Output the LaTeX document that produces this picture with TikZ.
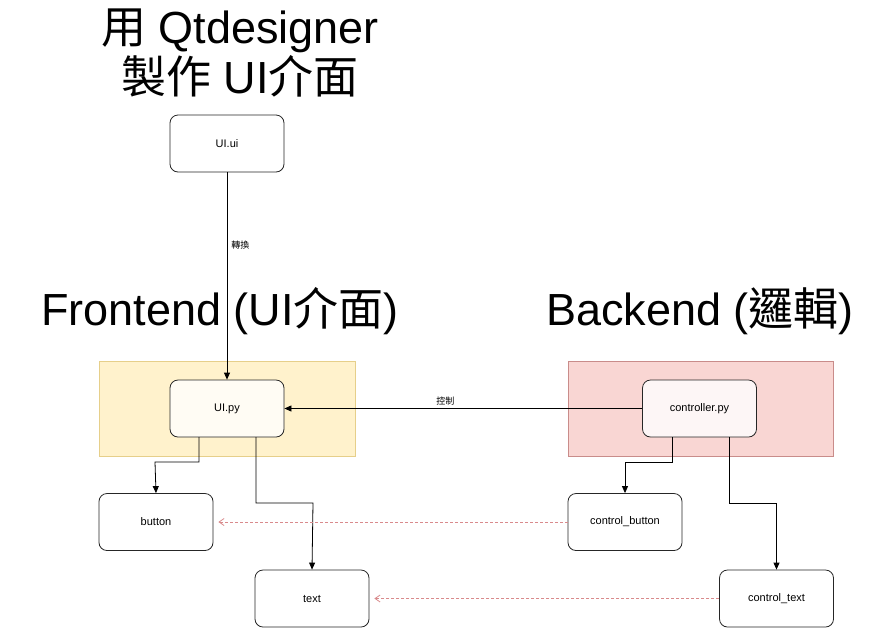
\documentclass[tikz,border=0pt]{standalone}
\usepackage{fontspec}
\setmainfont{Liberation Sans}
\newfontfamily\cjk{Noto Sans CJK TC}
\usetikzlibrary{arrows.meta}
\definecolor{fyel}{HTML}{FFF2CC}
\definecolor{byel}{HTML}{E6CF8A}
\definecolor{fred}{HTML}{F9D6D3}
\definecolor{bred}{HTML}{C98C8A}
\definecolor{dred}{HTML}{D98A8C}
\begin{document}
\begin{tikzpicture}[x=1pt,y=-1pt,
  box/.style={draw=black!85,line width=0.8pt,rounded corners=8pt,minimum width=114pt,minimum height=57pt,inner sep=0pt,font=\fontsize{11}{13}\selectfont,fill=white},
  inbox/.style={box,fill=white,fill opacity=0.8,text opacity=1},
  conn/.style={draw=black,line width=0.8pt,-{Triangle[length=7pt,width=6pt]}},
  dconn/.style={draw=dred,line width=0.8pt,dash pattern=on 3pt off 2pt,-{Straight Barb[length=5pt,width=7pt]}},
  big/.style={font=\fontsize{45}{50}\selectfont,align=center,inner sep=0pt},
  lab/.style={font=\cjk\fontsize{9}{11}\selectfont,inner sep=1pt}]
\useasboundingbox (0,0) rectangle (883,630);
\fill[white] (0,0) rectangle (883,630);
% group rects
\draw[fill=fyel,draw=byel,line width=0.6pt] (99,361) rectangle (355,456);
\draw[fill=fred,draw=bred,line width=0.6pt] (568,361) rectangle (833,456);
% titles
\node[big] (title) at (240,53) {{\cjk 用} Qtdesigner\\{\cjk 製作} UI{\cjk 介面}};
\node[big] (front) at (220,311) {Frontend (UI{\cjk 介面})};
\node[big] (back) at (700,311) {Backend ({\cjk 邏輯})};
% boxes
\node[box] (uiui) at (227,143.5) {UI.ui};
\node[inbox] (uipy) at (227,408.5) {UI.py};
\node[inbox] (ctrl) at (699.5,408.5) {controller.py};
\node[box] (button) at (156,522) {button};
\node[box] (text) at (312,598.5) {text};
\node[box] (cbtn) at (625,522) {control\_button};
\node[box] (ctext) at (776.5,598.5) {control\_text};
% connectors
\draw[conn] (uiui) -- node[lab,right,pos=0.35,xshift=3pt] {轉換} (uipy);
\draw[conn] (ctrl) -- node[lab,above,pos=0.55,yshift=2pt] {控制} (uipy);
\coordinate (a1) at (199,437);
\coordinate (a2) at (256,437);
\coordinate (b1) at (672,437);
\coordinate (b2) at (729,437);
\draw[conn] (a1) |- (155,462) -- (button.north);
\draw[conn] (a2) |- (313,503) -- (text.north);
\draw[conn] (b1) |- (625,462) -- (cbtn.north);
\draw[conn] (b2) |- (776.5,503) -- (ctext.north);
\draw[dconn] (cbtn.west) -- ([xshift=5pt]button.east);
\draw[dconn] (ctext.west) -- ([xshift=5pt]text.east);
\end{tikzpicture}
\end{document}
